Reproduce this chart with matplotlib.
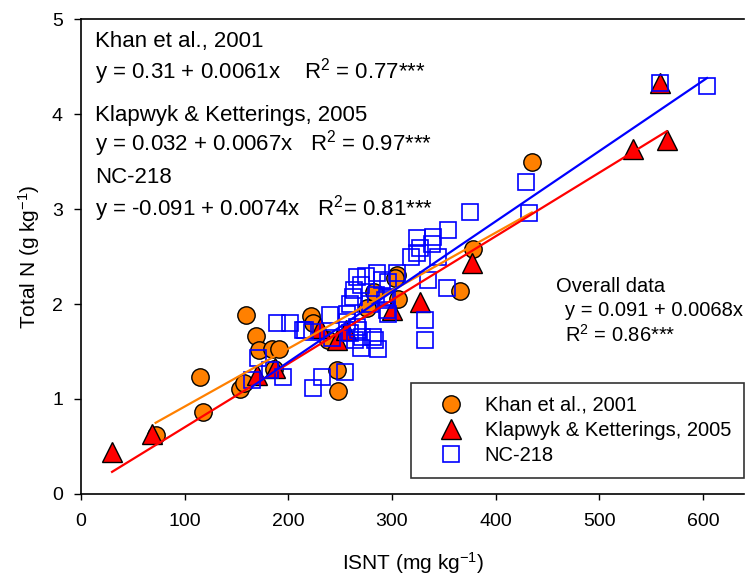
import numpy as np
import matplotlib
matplotlib.use("Agg")
import matplotlib.pyplot as plt

plt.rcParams['font.family'] = ['Liberation Sans', 'DejaVu Sans']
plt.rcParams['mathtext.fontset'] = 'custom'
plt.rcParams['mathtext.rm'] = 'Liberation Sans'
plt.rcParams['mathtext.it'] = 'Liberation Sans:italic'

# --- data ---
khan_x = [72, 118, 115, 153, 157, 159, 169, 172, 184, 191, 186, 222, 224, 238,
          247, 248, 276, 283, 305, 303, 306, 366, 378, 435]
khan_y = [0.62, 0.86, 1.23, 1.11, 1.17, 1.88, 1.66, 1.52, 1.53, 1.53, 1.32, 1.87,
          1.80, 1.62, 1.30, 1.08, 1.96, 2.13, 2.31, 2.27, 2.05, 2.14, 2.58, 3.50]

klap_x = [30, 69, 170, 187, 231, 247, 256, 300, 327, 377, 533, 559, 565]
klap_y = [0.44, 0.63, 1.25, 1.33, 1.75, 1.62, 1.73, 1.94, 2.02, 2.43, 3.63, 4.33, 3.73]

nc_x = [165, 171, 182, 189, 202, 195, 214, 224, 233, 255, 216, 223, 240, 242,
        257, 260, 264, 266, 270, 271, 282, 284, 287, 257, 260, 262, 263, 266,
        267, 279, 286, 295, 295, 293, 296, 296, 305, 318, 324, 324, 327, 339,
        340, 344, 354, 335, 353, 332, 332, 375, 429, 432, 559, 604, 270, 275,
        285, 290]
nc_y = [1.20, 1.43, 1.31, 1.80, 1.80, 1.23, 1.73, 1.12, 1.23, 1.28, 1.73, 1.71,
        1.88, 1.64, 1.90, 1.69, 1.62, 1.76, 1.54, 1.65, 1.65, 1.62, 1.53, 1.81,
        2.00, 2.07, 2.15, 2.28, 1.73, 2.00, 2.33, 2.07, 1.94, 2.04, 2.23, 1.90,
        2.33, 2.50, 2.54, 2.69, 2.59, 2.63, 2.71, 2.50, 2.78, 2.25, 2.17, 1.83,
        1.62, 2.97, 3.28, 2.96, 4.33, 4.30, 2.20, 2.30, 2.10, 2.25]

# regression coefficients (intercept, slope)
khan_fit = (0.31, 0.0061)
klap_fit = (0.032, 0.0067)
nc_fit = (-0.091, 0.0074)

fig = plt.figure(figsize=(7.47, 5.80), dpi=100)
ax = fig.add_axes([0.1084, 0.1483, 0.888, 0.8189])

orange = '#ff8000'
red = '#ff0000'
blue = '#0000ff'

ax.plot(khan_x, khan_y, 'o', ms=12.5, mfc=orange, mec='black', mew=1.0,
        ls='none', label='Khan et al., 2001', zorder=3)
ax.plot(klap_x, klap_y, '^', ms=15, mfc=red, mec='black', mew=1.0,
        ls='none', label='Klapwyk & Ketterings, 2005', zorder=3)
ax.plot(nc_x, nc_y, 's', ms=11, mfc='none', mec=blue, mew=1.2,
        ls='none', label='NC-218', zorder=3)

# fitted lines over the range of each data set
for xs, (b0, b1), c in [(khan_x, khan_fit, orange),
                        (klap_x, klap_fit, red),
                        (nc_x, nc_fit, blue)]:
    xx = np.array([min(xs), max(xs)])
    ax.plot(xx, b0 + b1 * xx, color=c, lw=1.6, zorder=4)

ax.set_xlim(0, 640)
ax.set_ylim(0, 5)
ax.set_xticks([0, 100, 200, 300, 400, 500, 600])
ax.set_yticks([0, 1, 2, 3, 4, 5])
ax.tick_params(direction='out', width=1, labelsize=14, top=False, right=False)
ax.tick_params(axis='x', length=4, pad=10)
ax.tick_params(axis='y', length=5, pad=8)
ax.spines['right'].set_visible(False)
for s in ['left', 'bottom', 'top']:
    ax.spines[s].set_linewidth(1.2)

ax.set_xlabel('ISNT (mg kg$^{-1}$)', fontsize=15, labelpad=14)
ax.set_ylabel('Total N (g kg$^{-1}$)', fontsize=15, labelpad=7)

fs = 16
ax.text(14, 4.76, 'Khan et al., 2001', fontsize=fs, va='center')
ax.text(14, 4.45, 'y = 0.31 + 0.0061x    R$^2$ = 0.77***', fontsize=fs, va='center')
ax.text(14, 3.98, 'Klapwyk & Ketterings, 2005', fontsize=fs, va='center')
ax.text(14, 3.69, 'y = 0.032 + 0.0067x   R$^2$ = 0.97***', fontsize=fs, va='center')
ax.text(14, 3.33, 'NC-218', fontsize=fs, va='center')
ax.text(14, 3.01, 'y = -0.091 + 0.0074x   R$^2$= 0.81***', fontsize=fs, va='center')

fs2 = 14.5
ax.text(458, 2.18, 'Overall data', fontsize=fs2, va='center')
ax.text(467, 1.93, 'y = 0.091 + 0.0068x', fontsize=fs2, va='center')
ax.text(467, 1.67, 'R$^2$ = 0.86***', fontsize=fs2, va='center')

leg = ax.legend(loc='lower right', bbox_to_anchor=(1.0, 0.034), borderaxespad=0,
                fontsize=14.5, frameon=True, fancybox=False, edgecolor='black',
                handletextpad=0.4, borderpad=0.65, labelspacing=0.3,
                markerscale=1.0, handlelength=2.6)
leg.get_frame().set_linewidth(1.2)

fig.savefig('out.png', dpi=100)
